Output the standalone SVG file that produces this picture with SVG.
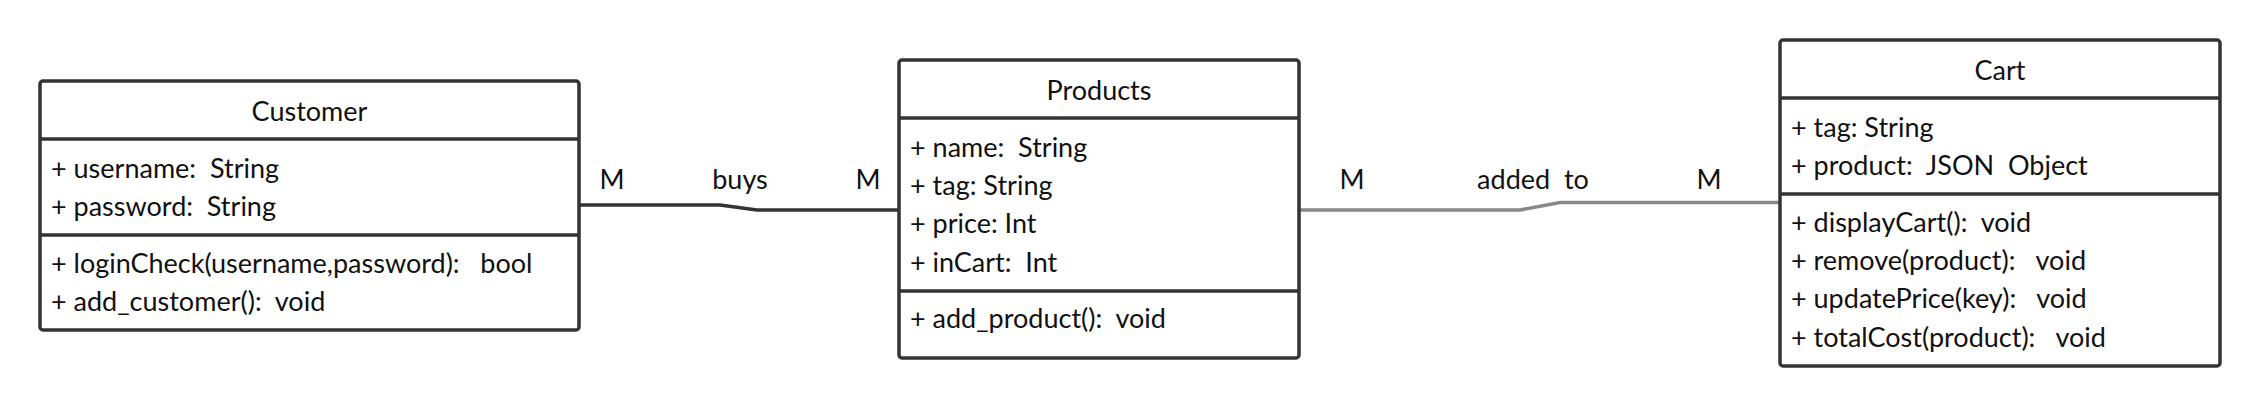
<svg xmlns="http://www.w3.org/2000/svg" width="2260" height="407" viewBox="0 0 2260 407">
<style>
.box{fill:#fff;stroke:#333;stroke-width:3.5}
.sep{stroke:#333;stroke-width:3.5}
text{font-family:Lato,"Noto Sans",sans-serif;font-size:27px;fill:#111;white-space:pre}
.t{text-anchor:middle}
.c{text-anchor:middle}
</style>
<rect width="2260" height="407" fill="#fff"/>
<g id="connectors">
<path d="M579,205 L720,205 L757,210 L899,210" fill="none" stroke="#333" stroke-width="3.5"/>
<path d="M1299,210 L1520,210 L1560,202.5 L1780,202.5" fill="none" stroke="#888" stroke-width="3.5"/>
<text class="c" x="612" y="189">M</text>
<text class="c" x="740" y="189">buys</text>
<text class="c" x="868" y="189">M</text>
<text class="c" x="1352" y="189">M</text>
<text class="c" x="1533" y="189">added  to</text>
<text class="c" x="1709" y="189">M</text>
</g>
<g id="customer">
<rect class="box" x="40" y="81" width="539" height="249" rx="3"/>
<line class="sep" x1="40" y1="139" x2="579" y2="139"/>
<line class="sep" x1="40" y1="235" x2="579" y2="235"/>
<text class="t" x="309.5" y="121">Customer</text>
<text x="51" y="178">+ username:  String</text>
<text x="51" y="216">+ password:  String</text>
<text x="51" y="273">+ loginCheck(username,password):   bool</text>
<text x="51" y="311">+ add_customer():  void</text>
</g>
<g id="products">
<rect class="box" x="899" y="60" width="400" height="298" rx="3"/>
<line class="sep" x1="899" y1="118" x2="1299" y2="118"/>
<line class="sep" x1="899" y1="291" x2="1299" y2="291"/>
<text class="t" x="1099" y="100">Products</text>
<text x="910" y="157">+ name:  String</text>
<text x="910" y="195">+ tag: String</text>
<text x="910" y="233">+ price: Int</text>
<text x="910" y="272">+ inCart:  Int</text>
<text x="910" y="328">+ add_product():  void</text>
</g>
<g id="cart">
<rect class="box" x="1780" y="40" width="440" height="326" rx="3"/>
<line class="sep" x1="1780" y1="98" x2="2220" y2="98"/>
<line class="sep" x1="1780" y1="194" x2="2220" y2="194"/>
<text class="t" x="2000" y="80">Cart</text>
<text x="1791" y="137">+ tag: String</text>
<text x="1791" y="175">+ product:  JSON  Object</text>
<text x="1791" y="232">+ displayCart():  void</text>
<text x="1791" y="270">+ remove(product):   void</text>
<text x="1791" y="308">+ updatePrice(key):   void</text>
<text x="1791" y="347">+ totalCost(product):   void</text>
</g>
</svg>
